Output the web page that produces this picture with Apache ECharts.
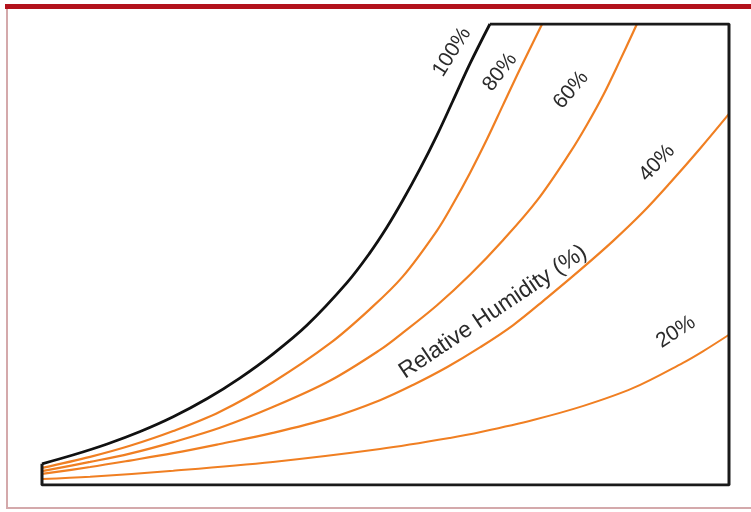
<!DOCTYPE html>
<html>
<head>
<meta charset="utf-8">
<script src="https://cdn.jsdelivr.net/npm/echarts@6/dist/echarts.min.js"></script>
<style>
html,body{margin:0;padding:0;background:#fff;}
#chart{width:751px;height:512px;}
</style>
</head>
<body>
<div id="chart"></div>
<script>
// Curves: [x, y] on a 0-100 scale in both directions
var rh100 = [[0,4.6],[4.5,6.5],[9.5,8.9],[14.3,11.6],[19.1,14.8],[24.0,18.7],[28.8,23.2],[33.6,28.4],[38.6,34.7],[44.4,43.9],[47.7,50.3],[50.2,55.9],[52.5,61.7],[55.0,68.5],[57.5,75.9],[59.8,83.3],[62.3,91.4],[65.2,100]];
var rh80 = [[0,3.7],[7.0,6.1],[12.8,8.5],[19.1,11.7],[25.9,15.9],[33.6,22.3],[41.9,30.7],[47.7,38.1],[52.5,45.2],[57.5,55.2],[59.8,60.9],[62.3,67.7],[64.8,75.1],[67.1,82.4],[69.6,90.3],[72.8,100]];
var rh60 = [[0,3.0],[7.0,5.0],[12.8,6.8],[19.1,9.3],[25.9,12.4],[33.6,16.9],[41.9,22.6],[49.2,29.3],[52.5,33.0],[57.5,39.0],[62.3,45.6],[67.1,53.1],[72.1,61.8],[76.9,72.2],[79.3,78.1],[81.7,84.6],[84.1,92.0],[86.6,100]];
var rh40 = [[0,2.4],[7.0,3.9],[12.8,5.3],[19.1,6.9],[25.9,8.9],[33.6,11.3],[41.9,14.5],[49.2,18.4],[54.0,21.7],[59.0,25.6],[63.8,29.9],[68.6,34.7],[73.5,40.6],[78.3,46.6],[83.1,52.9],[87.5,59.2],[91.4,65.5],[95.8,73.0],[100,80.5]];
var rh20 = [[0,1.3],[7.0,1.8],[19.1,3.1],[33.6,5.0],[49.2,7.8],[59.4,10.2],[64.2,11.6],[71.5,14.1],[78.7,17.1],[86.0,21.0],[93.3,26.5],[96.2,29.0],[100,32.6]];
// Outline of the chart area (bottom, right and top edges) in the same units
var frame = [[0,4.6],[0,0],[100,0],[100,100],[65.2,100]];
var curveLabels = ['100%','80%','60%','40%','20%'];
var axisTitle = 'Relative Humidity (%)';

var chart = echarts.init(document.getElementById('chart'), null, {renderer:'canvas'});
var orange = '#f07f22';
function curve(name, data, color, width){
  return {name:name, type:'line', data:data, smooth:0.35, showSymbol:false, symbol:'none',
          lineStyle:{color:color, width:width}, z:3, silent:true};
}
var txt = '#2b2b2b';
var font = 'Liberation Sans, Arial, sans-serif';
function label(text, x, y, deg, size){
  return {type:'text', x:x, y:y, rotation:deg*Math.PI/180,
    style:{text:text, fill:txt, font:size+'px '+font, align:'center', verticalAlign:'middle'}, z:10};
}
chart.setOption({
  backgroundColor:'#ffffff',
  animation:false,
  grid:{left:42, right:22, top:24, bottom:27},
  xAxis:{type:'value', min:0, max:100, show:false},
  yAxis:{type:'value', min:0, max:100, show:false},
  series:[
    {name:'frame', type:'line', data:frame, showSymbol:false, symbol:'none', lineStyle:{color:'#1a1a1a', width:3}, z:4, silent:true},
    curve(curveLabels[4], rh20, orange, 2),
    curve(curveLabels[3], rh40, orange, 2.2),
    curve(curveLabels[2], rh60, orange, 2.2),
    curve(curveLabels[1], rh80, orange, 2.2),
    curve(curveLabels[0], rh100, '#111111', 2.8)
  ],
  graphic:[
    {type:'rect', shape:{x:5, y:4, width:746, height:5}, style:{fill:'#b3121c'}, z:1},
    {type:'rect', shape:{x:6, y:9, width:2, height:500}, style:{fill:'#d4a9ab'}, z:1},
    {type:'rect', shape:{x:6, y:507, width:745, height:2}, style:{fill:'#d4a9ab'}, z:1},
    label(curveLabels[0], 452, 52, 58, 21),
    label(curveLabels[1], 500, 72, 52, 21),
    label(curveLabels[2], 571, 90, 50, 21),
    label(curveLabels[3], 657, 163, 47, 21),
    label(curveLabels[4], 676, 332, 33, 21),
    label(axisTitle, 493, 312, 34, 23)
  ]
});
</script>
</body>
</html>
